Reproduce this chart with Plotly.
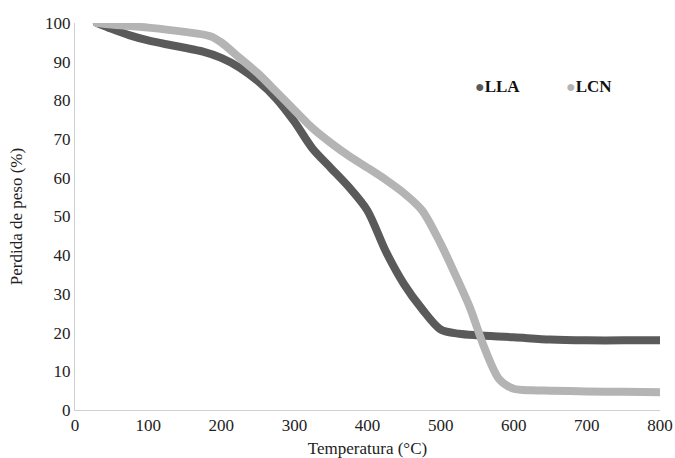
import plotly.graph_objects as go

# Data
temp_lla = [30, 50, 75, 100, 125, 150, 175, 200, 225, 250, 275, 300, 325, 350, 375, 400,
            425, 450, 475, 500, 525, 550, 600, 650, 700, 750, 800]
peso_lla = [100, 98.5, 96.8, 95.5, 94.5, 93.6, 92.6, 91, 88.5, 85, 80.5, 74.5, 67.5, 62.5,
            57.5, 51.5, 41, 32.5, 26, 20.8, 19.7, 19.3, 18.8, 18.2, 18, 18, 18]

temp_lcn = [30, 50, 100, 150, 185, 200, 225, 250, 275, 300, 325, 350, 375, 400, 425, 450,
            475, 500, 520, 540, 560, 580, 600, 625, 650, 700, 750, 800]
peso_lcn = [100, 99.6, 98.8, 97.7, 96.6, 95, 91, 87, 82.3, 77.5, 72.8, 69, 65.6, 62.6, 59.5,
            56, 51.5, 43, 35, 26.5, 16, 8, 5.5, 5.1, 5, 4.8, 4.7, 4.6]

x_ticks = [0, 100, 200, 300, 400, 500, 600, 700, 800]
y_ticks = [0, 10, 20, 30, 40, 50, 60, 70, 80, 90, 100]

C_LLA = "#5a5a5a"
C_LCN = "#b4b4b4"
FONT = "Liberation Serif"

fig = go.Figure()
fig.add_trace(go.Scatter(x=temp_lla, y=peso_lla, mode="lines", name="LLA",
                         line=dict(color=C_LLA, width=8, shape="spline", smoothing=0.8),
                         showlegend=False))
fig.add_trace(go.Scatter(x=temp_lcn, y=peso_lcn, mode="lines", name="LCN",
                         line=dict(color=C_LCN, width=8, shape="spline", smoothing=0.8),
                         showlegend=False))

fig.add_annotation(x=0.68, y=0.835, xref="paper", yref="paper", xanchor="left", yanchor="middle",
                   showarrow=False,
                   text=f'<span style="color:{C_LLA};font-size:16px">●</span><b>LLA</b>',
                   font=dict(family=FONT, size=17, color="#111"))
fig.add_annotation(x=0.836, y=0.835, xref="paper", yref="paper", xanchor="left", yanchor="middle",
                   showarrow=False,
                   text=f'<span style="color:{C_LCN};font-size:16px">●</span><b>LCN</b>',
                   font=dict(family=FONT, size=17, color="#111"))

fig.update_layout(
    width=675, height=458,
    margin=dict(l=75, r=15, t=23, b=48),
    paper_bgcolor="white", plot_bgcolor="white",
    font=dict(family=FONT, size=17, color="#222"),
)
fig.update_xaxes(range=[0, 800], tickvals=x_ticks, showgrid=False, zeroline=False,
                 showline=True, linecolor="#d0d0d0", linewidth=1, ticks="",
                 automargin=False,
                 title=dict(text="Temperatura (°C)", standoff=8, font=dict(size=17)),
                 tickfont=dict(size=17))
fig.update_yaxes(range=[0, 100], tickvals=y_ticks, showgrid=False, zeroline=False,
                 showline=True, linecolor="#d0d0d0", linewidth=1, ticks="",
                 automargin=False,
                 title=dict(text="Perdida de peso (%)", standoff=18, font=dict(size=17)),
                 tickfont=dict(size=17))

# Remove the default page margin so the figure fills the window exactly,
# and give the thick lines rounded ends as in the reference.
post = ("document.body.style.margin='0';document.body.style.overflow='hidden';"
        "document.querySelectorAll('.js-line').forEach(function(p){"
        "p.style.strokeLinecap='round';p.style.strokeLinejoin='round';});")
fig.write_html("out.html", config={"displayModeBar": False}, post_script=post)
